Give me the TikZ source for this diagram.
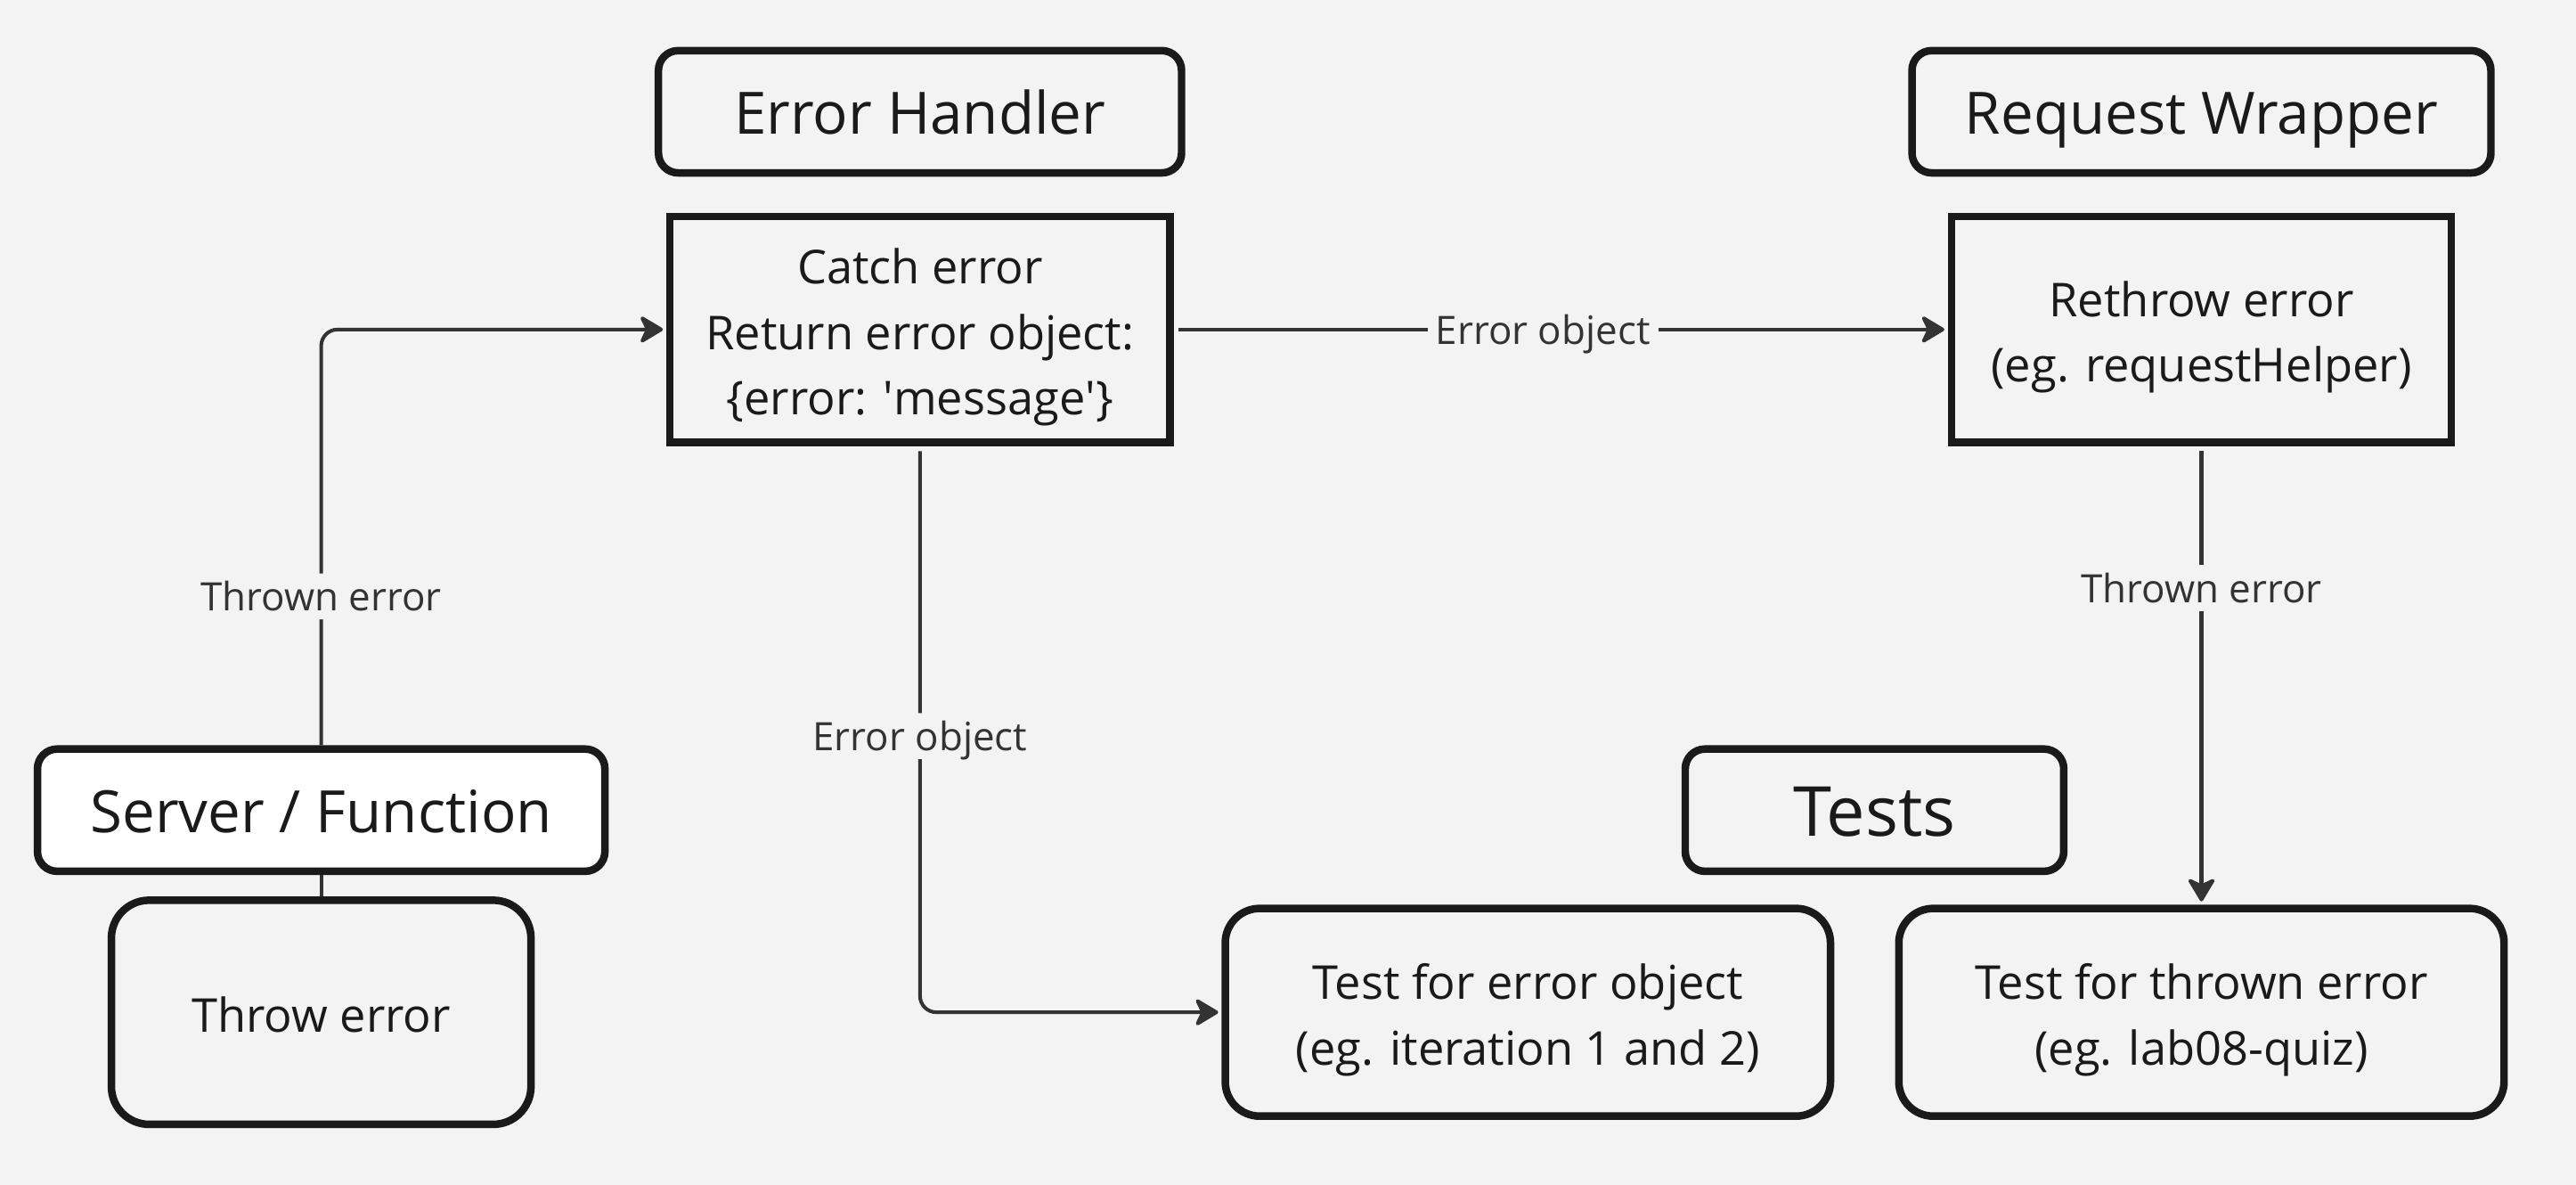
\documentclass[tikz,border=0pt]{standalone}
\usepackage{fontspec}
\setmainfont{Open Sans}
\usetikzlibrary{arrows.meta}
\definecolor{bg}{HTML}{F3F3F3}
\definecolor{ink}{HTML}{1A1A1A}
\definecolor{wire}{HTML}{333333}
\newcommand\topS{\rule{0pt}{1.13em}}
\newcommand\botS{\rule[-0.28em]{0pt}{0.28em}}
\tikzset{
  box/.style={draw=ink, line width=4.6pt, inner sep=0pt, text=ink, fill=bg},
  titlebox/.style={box, rounded corners=12pt, minimum height=74.4pt, text height=27pt, text depth=0pt, font=\fontsize{35.5}{42}\selectfont},
  bodyfont/.style={align=center, font=\fontsize{28.4}{40}\selectfont},
  sqbox/.style={box, bodyfont, minimum width=304.4pt, minimum height=137.4pt},
  testbox/.style={box, bodyfont, rounded corners=21pt, minimum width=368.4pt, minimum height=126.4pt},
  conn/.style={draw=wire, line width=2.2pt},
  arr/.style={conn, shorten >=2pt, -{Stealth[length=16pt, width=19pt, inset=4.5pt, round]}},
  lbl/.style={fill=bg, text=wire, inner sep=5pt, text height=18pt, text depth=0pt, font=\fontsize{23.8}{28}\selectfont}
}
\begin{document}
\begin{tikzpicture}[x=1pt,y=-1pt]
\fill[bg] (0,0) rectangle (1568,721);
\useasboundingbox (0,0) rectangle (1568,721);

\node[titlebox, minimum width=318.4pt] (eh) at (560,68) {Error Handler};
\node[titlebox, minimum width=352.4pt] (rw) at (1340,68) {Request Wrapper};
\node[sqbox] (catch) at (560,200.5) {\topS Catch error\\Return error object:\\\{error: \textquotesingle message\textquotesingle\}\botS};
\node[sqbox] (rethrow) at (1340,200.5) {\topS Rethrow error\\(eg. requestHelper)\botS};
\node[titlebox, minimum width=345.4pt, fill=white] (sf) at (195.5,493) {Server / Function};
\node[box, bodyfont, rounded corners=23pt, minimum width=255.4pt, minimum height=136.4pt] (throw) at (195.5,616) {\topS Throw error\botS};
\node[titlebox, minimum width=230.4pt, text height=32pt, font=\fontsize{42}{48}\selectfont] (tests) at (1141,493) {Tests};
\node[testbox] (tobj) at (930,616) {\topS Test for error object\\(eg. iteration 1 and 2)\botS};
\node[testbox] (tthr) at (1340,616) {\topS Test for thrown error\\(eg. lab08-quiz)\botS};

\draw[arr, rounded corners=10pt] (sf.north) |- (catch.west)
  node[lbl, pos=0.179] {Thrown error};
\draw[conn] (throw.north) -- (sf.south);
\draw[arr, shorten <=3pt] (catch.east) -- (rethrow.west)
  node[lbl, pos=0.477] {Error object};
\draw[arr, rounded corners=10pt, shorten <=3pt] (catch.south) |- (tobj.west)
  node[lbl, pos=0.256] {Error object};
\draw[arr, shorten <=3pt] (rethrow.south) -- (tthr.north)
  node[lbl, pos=0.31] {Thrown error};
\end{tikzpicture}
\end{document}
